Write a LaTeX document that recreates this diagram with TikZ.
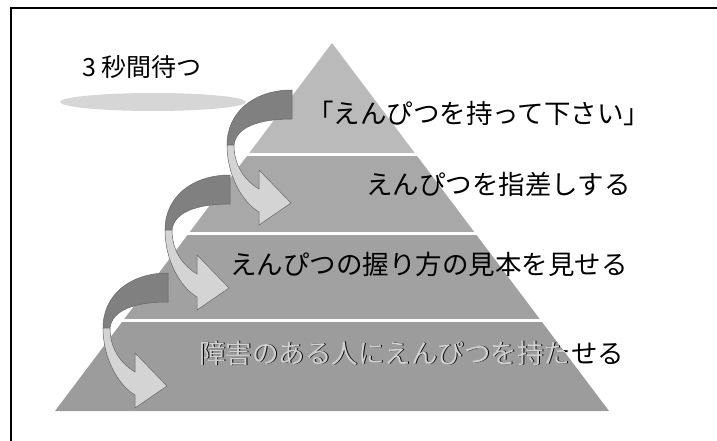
\documentclass[tikz,border=0pt]{standalone}
\usepackage{fontspec}
\setmainfont{Noto Sans CJK JP}
\definecolor{bandA}{gray}{0.73}
\definecolor{bandB}{gray}{0.66}
\definecolor{bandC}{gray}{0.63}
\definecolor{bandD}{gray}{0.61}
\definecolor{arrowdark}{gray}{0.50}
\definecolor{arrowlight}{gray}{0.83}
\definecolor{arrowedge}{gray}{0.40}
\definecolor{cloudgray}{gray}{0.84}
\definecolor{embossgray}{gray}{0.82}
\begin{document}
\begin{tikzpicture}[x=1pt,y=-1pt,
  lbl/.style={inner sep=0pt, anchor=west, text height=0.88em, text depth=0.12em,
              font=\fontsize{26.5}{30}\selectfont},
  toplbl/.style={lbl, font=\fontsize{25}{28}\selectfont},
  ribbon/.pic={
    \filldraw[fill=arrowdark, draw=arrowedge, line width=0.5]
      (0,0) .. controls (-38,0) and (-65,22) .. (-65,55)
      -- (-58,55) .. controls (-56,37) and (-33,29) .. (0,29) -- cycle;
    \filldraw[fill=arrowlight, draw=arrowedge, line width=0.5]
      (-65,55) .. controls (-65,85) and (-50,112) .. (-33,122)
      -- (-33,135) -- (-1,113) -- (-33,80) -- (-33,99)
      .. controls (-48,90) and (-58,75) .. (-58,55) -- cycle;
  }]
\useasboundingbox (0,0) rectangle (717,441);
% frame
\draw[line width=1.8] (11,441) -- (11,8) -- (717,8);
% pyramid
\begin{scope}
  \clip (332,43) -- (609,411) -- (55,411) -- cycle;
  \fill[bandA] (0,0) rectangle (717,153);
  \fill[bandB] (0,156) rectangle (717,232);
  \fill[bandC] (0,235) rectangle (717,319);
  \fill[bandD] (0,322) rectangle (717,441);
\end{scope}
% cloud under the top label
\fill[cloudgray] (153,102) ellipse [x radius=93, y radius=9];
% curved arrows
\pic at (168,273) {ribbon};
\pic at (230,175) {ribbon};
\pic at (292,90) {ribbon};
% labels
\node[toplbl] (wait) at (82,73) {3 秒間待つ};
\node[lbl] (s1) at (307,120) {「えんぴつを持って下さい」};
\node[lbl] (s2) at (366,191) {えんぴつを指差しする};
\node[lbl] (s3) at (230,271) {えんぴつの握り方の見本を見せる};
\node[lbl] (s4) at (200,360) {障害のある人にえんぴつを持たせる};
\begin{scope}
  \clip (332,43) -- (609,411) -- (55,411) -- cycle;
  \node[lbl, text=embossgray] (s4e) at (199.2,359.2) {障害のある人にえんぴつを持たせる};
\end{scope}
\end{tikzpicture}
\end{document}
